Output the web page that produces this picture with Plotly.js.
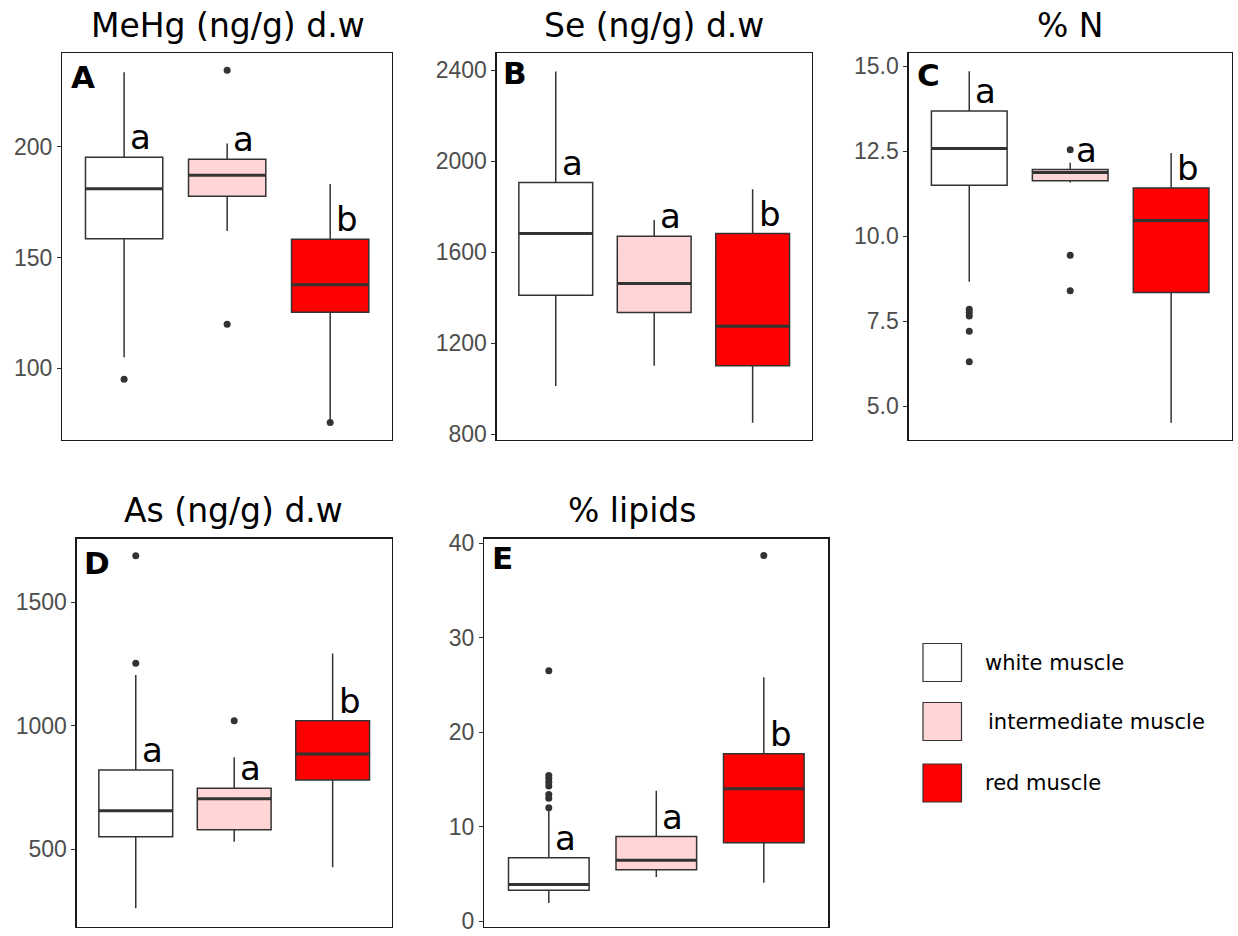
<!DOCTYPE html>
<html>
<head>
<meta charset="utf-8">
<script src="https://cdn.plot.ly/plotly-3.0.1.min.js"></script>
<style>html,body{margin:0;padding:0;background:#fff;}#chart{width:1238px;height:936px;}</style>
</head>
<body>
<div id="chart"></div>
<script>
// ---- Data ----
const groups = ['white muscle', 'intermediate muscle', 'red muscle'];
const panelTags = ['A', 'B', 'C', 'D', 'E'];
const panelTitles = ['MeHg (ng/g) d.w', 'Se (ng/g) d.w', '% N', 'As (ng/g) d.w', '% lipids'];

// MeHg
const mehgLow = [105, 162, 77];
const mehgQ1 = [158.5, 177.6, 125.3];
const mehgMed = [181, 187.1, 137.7];
const mehgQ3 = [195.2, 194.3, 158.2];
const mehgHigh = [233.6, 201.5, 183.2];
const mehgOut = [[95], [234.5, 119.9], [75.5]];
const mehgLetters = ['a', 'a', 'b'];

// Se
const seLow = [1011, 1100, 850];
const seQ1 = [1410, 1334, 1100];
const seMed = [1682, 1462, 1274];
const seQ3 = [1906, 1670, 1682];
const seHigh = [2395, 1741, 1877];
const seOut = [[], [], []];
const seLetters = ['a', 'a', 'b'];

// % N
const nLow = [8.66, 11.58, 4.51];
const nQ1 = [11.5, 11.63, 8.34];
const nMed = [12.58, 11.87, 10.46];
const nQ3 = [13.68, 11.96, 11.42];
const nHigh = [14.85, 12.16, 12.45];
const nOut = [[7.85, 7.75, 7.65, 7.2, 6.3], [12.54, 9.44, 8.39], []];
const nLetters = ['a', 'a', 'b'];

// As
const asLow = [260, 529, 426];
const asQ1 = [550, 578, 780];
const asMed = [655, 704, 885];
const asQ3 = [820, 746, 1020];
const asHigh = [1205, 872, 1293];
const asOut = [[1689, 1253], [1020], []];
const asLetters = ['a', 'a', 'b'];

// % lipids
const lipLow = [1.92, 4.67, 4.06];
const lipQ1 = [3.25, 5.44, 8.28];
const lipMed = [3.87, 6.44, 14.0];
const lipQ3 = [6.69, 8.95, 17.7];
const lipHigh = [11.67, 13.8, 25.8];
const lipOut = [[26.5, 15.4, 15.1, 14.7, 14.3, 13.4, 13.0, 12.0], [], [38.7]];
const lipLetters = ['a', 'a', 'b'];

// ---- Styling ----
const fills = ['#FFFFFF', '#FFD5D5', '#FF0000'];
const lineCol = '#333333';
const W = 1238, H = 936;
const px = v => v / W;
const py = v => 1 - v / H;

const panels = [
  {low: mehgLow, q1: mehgQ1, med: mehgMed, q3: mehgQ3, high: mehgHigh, out: mehgOut, letters: mehgLetters,
   dom: [62.3, 392, 53, 440], range: [67.6, 242.3], dtick: 50, fmt: '', title: [228, 25], tag: [83, 77]},
  {low: seLow, q1: seQ1, med: seMed, q3: seQ3, high: seHigh, out: seOut, letters: seLetters,
   dom: [496.7, 811.7, 53, 440], range: [773.6, 2476], dtick: 400, fmt: '', title: [654, 25], tag: [515, 73]},
  {low: nLow, q1: nQ1, med: nMed, q3: nQ3, high: nHigh, out: nOut, letters: nLetters,
   dom: [908.7, 1231.7, 53, 440], range: [4.0, 15.39], dtick: 2.5, fmt: '.1f', title: [1070, 25], tag: [928, 75]},
  {low: asLow, q1: asQ1, med: asMed, q3: asQ3, high: asHigh, out: asOut, letters: asLetters,
   dom: [76.7, 391.7, 538.7, 926.7], range: [185, 1758], dtick: 500, fmt: '', title: [233, 511], tag: [97, 563]},
  {low: lipLow, q1: lipQ1, med: lipMed, q3: lipQ3, high: lipHigh, out: lipOut, letters: lipLetters,
   dom: [484.3, 828.3, 538.7, 926.7], range: [-0.6, 40.48], dtick: 10, fmt: '', title: [632, 511], tag: [502, 558]}
];

const traces = [];
const annotations = [];
const shapes = [];
const layout = {
  width: W, height: H,
  margin: {l: 0, r: 0, t: 0, b: 0},
  paper_bgcolor: '#FFFFFF', plot_bgcolor: '#FFFFFF',
  showlegend: false,
  font: {family: 'Liberation Sans, Arial, sans-serif', color: '#000'}
};

panels.forEach((p, k) => {
  const n = k === 0 ? '' : String(k + 1);
  const xa = 'x' + n, ya = 'y' + n;
  layout['xaxis' + n] = {
    domain: [px(p.dom[0]), px(p.dom[1])], range: [0.4, 3.6], anchor: ya,
    showgrid: false, zeroline: false, showticklabels: false, ticks: '',
    showline: true, mirror: true, linecolor: '#1a1a1a', linewidth: 1.3, fixedrange: true
  };
  layout['yaxis' + n] = {
    domain: [py(p.dom[3]), py(p.dom[2])], range: p.range, anchor: xa,
    showgrid: false, zeroline: false, dtick: p.dtick, tick0: 0, tickformat: p.fmt,
    ticks: 'outside', ticklen: 4, tickwidth: 1, tickcolor: '#333333',
    ticklabeloverflow: 'allow',
    tickfont: {family: 'Liberation Sans, Arial, sans-serif', size: 23, color: '#4D4D4D'},
    showline: true, mirror: true, linecolor: '#1a1a1a', linewidth: 1.3, fixedrange: true
  };
  for (let g = 0; g < 3; g++) {
    const xc = g + 1;
    traces.push({
      type: 'box', xaxis: xa, yaxis: ya, x: [xc],
      q1: [p.q1[g]], median: [p.med[g]], q3: [p.q3[g]],
      lowerfence: [p.low[g]], upperfence: [p.high[g]],
      width: 0.75, whiskerwidth: 0, boxpoints: false,
      fillcolor: fills[g], line: {color: lineCol, width: 1.5},
      name: groups[g], hoverinfo: 'skip'
    });
    // thicker median line
    traces.push({
      type: 'scatter', mode: 'lines', xaxis: xa, yaxis: ya,
      x: [xc - 0.375, xc + 0.375], y: [p.med[g], p.med[g]],
      line: {color: lineCol, width: 3}, hoverinfo: 'skip'
    });
    if (p.out[g].length) {
      traces.push({
        type: 'scatter', mode: 'markers', xaxis: xa, yaxis: ya,
        x: p.out[g].map(() => xc), y: p.out[g],
        marker: {color: lineCol, size: 7}, hoverinfo: 'skip'
      });
    }
    annotations.push({
      xref: xa, yref: ya, x: xc, y: p.q3[g], xanchor: 'left', yanchor: 'bottom',
      xshift: 4, yshift: -2, showarrow: false, text: p.letters[g],
      font: {family: 'DejaVu Sans, Verdana, sans-serif', size: 34, color: '#000'}
    });
  }
  annotations.push({
    xref: 'paper', yref: 'paper', x: px(p.title[0]), y: py(p.title[1]),
    xanchor: 'center', yanchor: 'middle', showarrow: false, text: panelTitles[k],
    font: {family: 'DejaVu Sans, Verdana, sans-serif', size: 33, color: '#000'}
  });
  annotations.push({
    xref: 'paper', yref: 'paper', x: px(p.tag[0]), y: py(p.tag[1]),
    xanchor: 'center', yanchor: 'middle', showarrow: false, text: '<b>' + panelTags[k] + '</b>',
    font: {family: 'DejaVu Sans, Verdana, sans-serif', size: 31, color: '#000'}
  });
});

// legend
const legY = [662.5, 721.5, 783];
const legX = [983, 986, 983];
groups.forEach((g, i) => {
  shapes.push({
    type: 'rect', xref: 'paper', yref: 'paper',
    x0: px(923), x1: px(961.5), y0: py(legY[i] + 19), y1: py(legY[i] - 19),
    fillcolor: fills[i], line: {color: '#333333', width: 1.2}
  });
  annotations.push({
    xref: 'paper', yref: 'paper', x: px(legX[i]), y: py(legY[i]),
    xanchor: 'left', yanchor: 'middle', showarrow: false, text: g,
    font: {family: 'DejaVu Sans, Verdana, sans-serif', size: 21, color: '#000'}
  });
});

layout.annotations = annotations;
layout.shapes = shapes;
Plotly.newPlot('chart', traces, layout, {staticPlot: true, displayModeBar: false});
</script>
</body>
</html>
